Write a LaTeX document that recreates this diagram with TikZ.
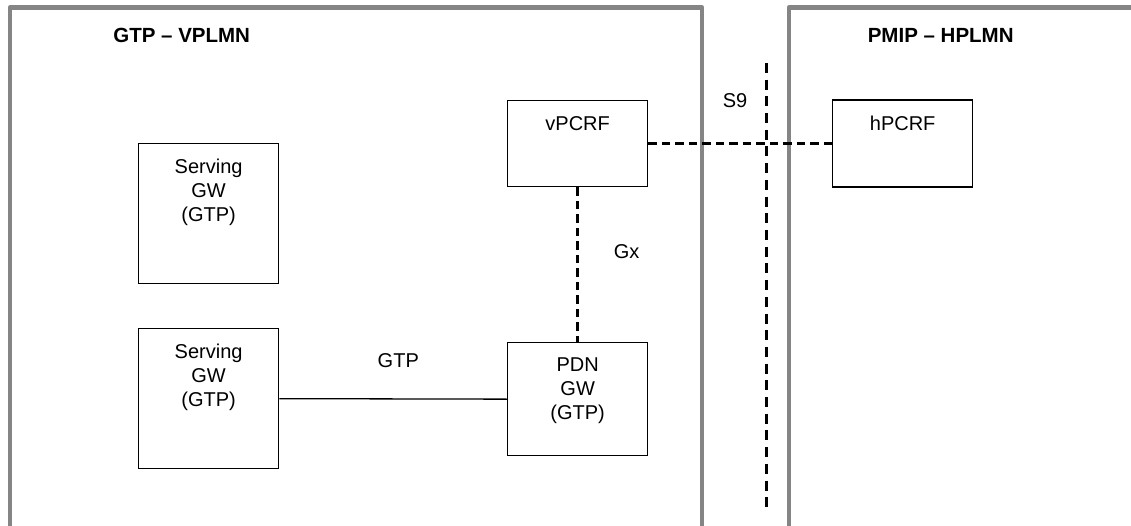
\documentclass[tikz,border=0pt]{standalone}
\usepackage{fontspec}
\setmainfont{Liberation Sans}
\begin{document}
\begin{tikzpicture}[x=1pt,y=-1pt,
  frame/.style={draw=black!48,line width=4.5pt,line join=round},
  nebox/.style={draw=black,line width=1.3pt,rectangle,inner sep=0pt,anchor=north west},
  boxtext/.style={anchor=north,inner sep=0pt,align=center,font=\fontsize{20}{24}\selectfont},
  lbl/.style={inner sep=0pt,font=\fontsize{20}{24}\selectfont},
  ttl/.style={inner sep=0pt,font=\fontsize{20.5}{24}\selectfont\bfseries},
  sline/.style={draw=black,line width=1.3pt},
  dline/.style={draw=black,line width=2.8pt,dash pattern=on 8.5pt off 5pt},
  bigdash/.style={draw=black,line width=3pt,dash pattern=on 10pt off 6.7pt}]
\useasboundingbox (0,0) rectangle (1131,526);
\clip (0,0) rectangle (1131,526);
% domain frames
\draw[frame] (10,540) -- (10,7.5) -- (702,7.5) -- (702,540);
\draw[frame] (789,540) -- (789,7.5) -- (1150,7.5);
\node[ttl] (t1) at (181.7,35.5) {GTP – VPLMN};
\node[ttl] (t2) at (940.7,35) {PMIP – HPLMN};
% boxes
\node[nebox,minimum width=140pt,minimum height=140pt] (sgw1) at (138,143) {};
\node[boxtext] (sgw1t) at ([yshift=-16pt]sgw1.north) {Serving\\GW\\(GTP)};
\node[nebox,minimum width=140pt,minimum height=140pt] (sgw2) at (138,328) {};
\node[boxtext] (sgw2t) at ([yshift=-16pt]sgw2.north) {Serving\\GW\\(GTP)};
\node[nebox,minimum width=140pt,minimum height=113pt] (pgw) at (507,342) {};
\node[boxtext] (pgwt) at ([yshift=-16pt]pgw.north) {PDN\\GW\\(GTP)};
\node[nebox,minimum width=140pt,minimum height=86pt] (vpcrf) at (507,100) {};
\node[boxtext] (vpcrft) at ([yshift=-16.5pt]vpcrf.north) {vPCRF};
\node[nebox,minimum width=140pt,minimum height=87pt] (hpcrf) at (832,99.5) {};
\node[boxtext] (hpcrft) at ([yshift=-16.5pt]hpcrf.north) {hPCRF};
% connectors
\draw[sline] (sgw2.east) -- (pgw.west);
\draw[dline] (vpcrf.south) -- (pgw.north);
\draw[dline] (vpcrf.east) -- (hpcrf.west);
\coordinate (s9top) at (766.7,63);
\coordinate (s9bot) at (766.7,513);
\draw[bigdash] (s9top) -- (s9bot);
% labels
\node[lbl] (lgtp) at (398.3,360.7) {GTP};
\node[lbl] (lgx) at (626.7,251.5) {Gx};
\node[lbl] (ls9) at (735,100.8) {S9};
\end{tikzpicture}
\end{document}
